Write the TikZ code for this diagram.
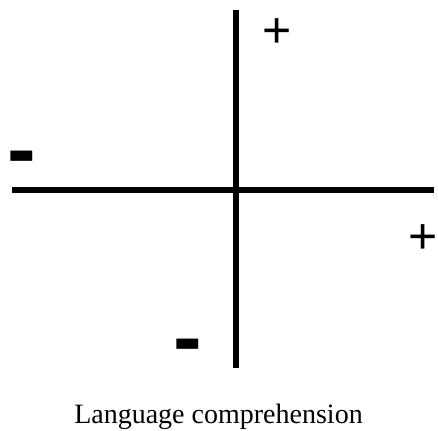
\documentclass[tikz,border=0pt]{standalone}
\usepackage{fontspec}
\setmainfont{Liberation Serif}
\newfontfamily\signfont{Liberation Sans}
\usetikzlibrary{positioning}

\begin{document}
\begin{tikzpicture}[x=1pt, y=1pt,
    axis/.style={line width=6pt},
    plussign/.style={inner sep=0pt, font=\signfont\fontsize{50}{50}\selectfont},
    minussign/.style={inner sep=0pt, font=\signfont\bfseries\fontsize{86}{86}\selectfont}]
  \useasboundingbox (0,0) rectangle (438,430);
  % axes
  \coordinate (top) at (236,420);
  \coordinate (bottom) at (236,62);
  \coordinate (left) at (12,240);
  \coordinate (right) at (434,240);
  \draw[axis] (top) -- (bottom);
  \draw[axis] (left) -- (right);
  % signs
  \node[plussign] (ptop) at (277,397) {+};
  \node[plussign] (pright) at (423,191) {+};
  \node[minussign] (mleft) at (22,265) {-};
  \node[minussign] (mbottom) at (188,77) {-};
  % caption
  \node[anchor=base, inner sep=0pt, font=\fontsize{28}{28}\selectfont] (caption) at (218.5,6) {Language comprehension};
\end{tikzpicture}
\end{document}
